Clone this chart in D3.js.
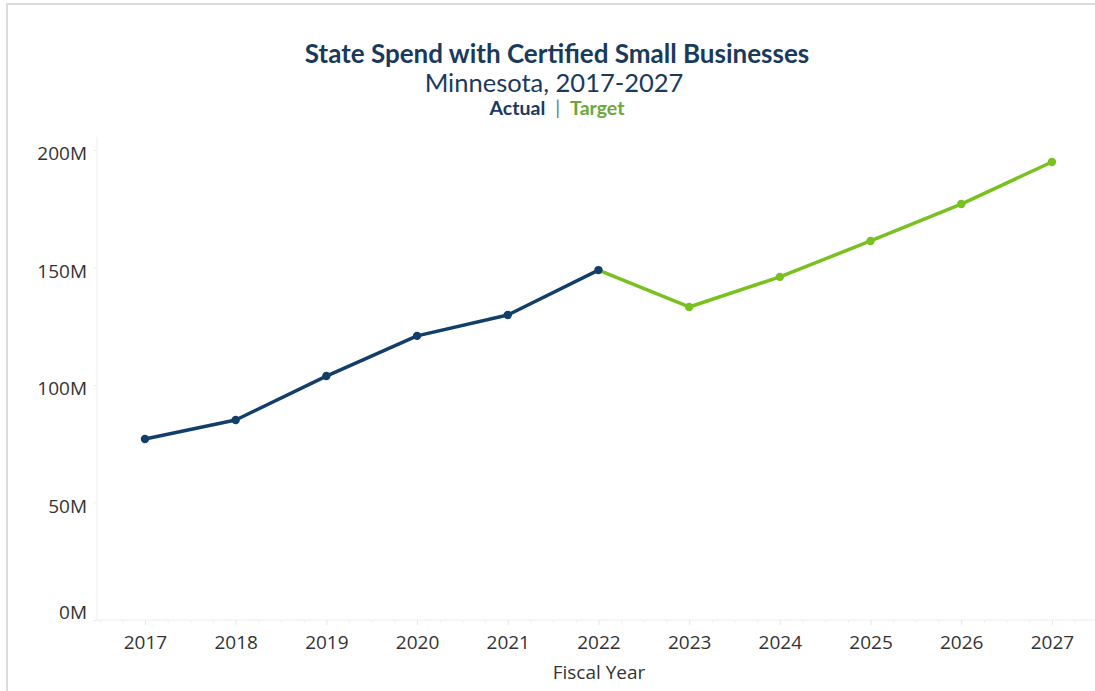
<!DOCTYPE html>
<html>
<head>
<meta charset="utf-8">
<script src="https://cdn.jsdelivr.net/npm/d3@7"></script>
<style>
html,body{margin:0;padding:0;background:#fff;}
svg{display:block;}
</style>
</head>
<body>
<svg id="chart" width="1095" height="691"></svg>
<script>
const actualYears = [2017, 2018, 2019, 2020, 2021, 2022];
const actualValues = [77.0, 85.1, 103.8, 120.9, 129.8, 148.9];
const targetYears = [2022, 2023, 2024, 2025, 2026, 2027];
const targetValues = [148.9, 133.2, 146.0, 161.3, 177.0, 194.9];
const yTickValues = [0, 50, 100, 150, 200];
const xTickYears = [2017, 2018, 2019, 2020, 2021, 2022, 2023, 2024, 2025, 2026, 2027];

const navy = "#123f69";
const green = "#78c11f";
const textNavy = "#1a3a5c";
const textGreen = "#6aa83a";
const axisText = "#333333";

const svg = d3.select("#chart");

// outer frame (left & top edges)
svg.append("line").attr("x1", 7).attr("x2", 7).attr("y1", 3).attr("y2", 691)
  .attr("stroke", "#dcdcdc").attr("stroke-width", 2);
svg.append("line").attr("x1", 6).attr("x2", 1095).attr("y1", 4).attr("y2", 4)
  .attr("stroke", "#dcdcdc").attr("stroke-width", 2);

const x = d3.scaleLinear().domain([2016.471, 2027.497]).range([97, 1097]);
const y = d3.scaleLinear().domain([0, 200]).range([620, 150]);

// titles
svg.append("text").attr("x", 557).attr("y", 63).attr("text-anchor", "middle")
  .attr("font-family", "Lato, 'Open Sans', sans-serif").attr("font-weight", "bold")
  .attr("font-size", 26).attr("fill", textNavy)
  .text("State Spend with Certified Small Businesses");
svg.append("text").attr("x", 554).attr("y", 92).attr("text-anchor", "middle")
  .attr("font-family", "Lato, 'Open Sans', sans-serif")
  .attr("font-size", 25.5).attr("fill", textNavy)
  .text("Minnesota, 2017-2027");
const leg = svg.append("text").attr("x", 557).attr("y", 115).attr("text-anchor", "middle")
  .attr("font-family", "Lato, 'Open Sans', sans-serif").attr("font-weight", "bold")
  .attr("font-size", 19.5);
leg.append("tspan").attr("fill", textNavy).text("Actual");
leg.append("tspan").attr("fill", "#5a7fa0").attr("font-weight", "normal").attr("dx", 5).text(" | ");
leg.append("tspan").attr("fill", textGreen).attr("dx", 5).text("Target");

// y axis
const yAxis = d3.axisLeft(y).tickValues(yTickValues).tickSize(4).tickPadding(6)
  .tickFormat(d => d + "M");
const gy = svg.append("g").attr("transform", "translate(97,0)").call(yAxis);
gy.select(".domain").remove();
gy.append("line").attr("x1", 0).attr("x2", 0).attr("y1", 137).attr("y2", 620)
  .attr("stroke", "#eeeeee").attr("stroke-width", 1);
gy.selectAll(".tick line").attr("stroke", "#eeeeee");
gy.selectAll(".tick text").attr("font-family", "'Open Sans', sans-serif")
  .attr("font-size", 19).attr("fill", axisText).attr("dy", "0.52em");
gy.selectAll(".tick").filter(d => d === 0).select("text").attr("dy", "-0.08em");

// x axis
const minorTicks = d3.range(2016.5, 2027.6, 0.25);
const gxMinor = svg.append("g").attr("transform", "translate(0,620)")
  .call(d3.axisBottom(x).tickValues(minorTicks).tickSize(3).tickFormat(""));
gxMinor.select(".domain").remove();
gxMinor.selectAll(".tick line").attr("stroke", "#eeeeee");
const gx = svg.append("g").attr("transform", "translate(0,620)")
  .call(d3.axisBottom(x).tickValues(xTickYears).tickSize(5).tickPadding(11).tickFormat(d3.format("d")));
gx.select(".domain").remove();
gx.selectAll(".tick line").attr("stroke", "#e8e8e8");
gx.selectAll(".tick text").attr("font-family", "'Open Sans', sans-serif")
  .attr("font-size", 19).attr("fill", axisText);
svg.append("line").attr("x1", 97).attr("x2", 1095).attr("y1", 620).attr("y2", 620)
  .attr("stroke", "#eeeeee").attr("stroke-width", 1);

svg.append("text").attr("x", 599).attr("y", 679).attr("text-anchor", "middle")
  .attr("font-family", "'Open Sans', sans-serif").attr("font-size", 19).attr("fill", axisText)
  .text("Fiscal Year");

// lines
const actual = actualYears.map((yr, i) => ({ yr, v: actualValues[i] }));
const target = targetYears.map((yr, i) => ({ yr, v: targetValues[i] }));
const line = d3.line().x(d => x(d.yr)).y(d => y(d.v));

svg.append("path").datum(target).attr("d", line).attr("fill", "none")
  .attr("stroke", green).attr("stroke-width", 3.5).attr("stroke-linejoin", "round");
svg.selectAll(".tdot").data(target.slice(1)).enter().append("circle")
  .attr("cx", d => x(d.yr)).attr("cy", d => y(d.v)).attr("r", 4.2).attr("fill", green);

svg.append("path").datum(actual).attr("d", line).attr("fill", "none")
  .attr("stroke", navy).attr("stroke-width", 3.5).attr("stroke-linejoin", "round");
svg.selectAll(".adot").data(actual).enter().append("circle")
  .attr("cx", d => x(d.yr)).attr("cy", d => y(d.v)).attr("r", 4.2).attr("fill", navy);
</script>
</body>
</html>
